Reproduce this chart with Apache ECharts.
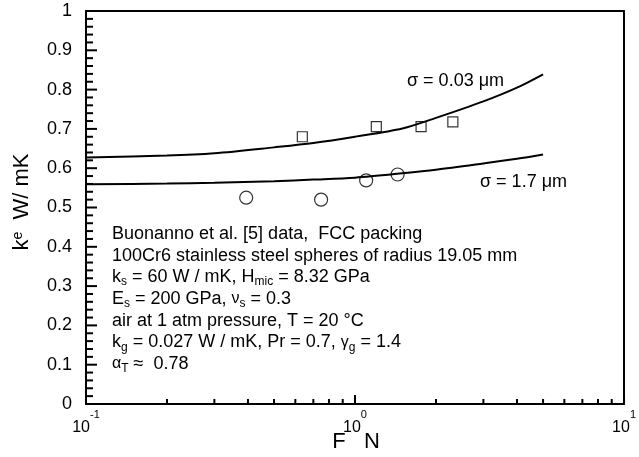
<!DOCTYPE html>
<html>
<head>
<meta charset="utf-8">
<script src="https://cdn.jsdelivr.net/npm/echarts@6/dist/echarts.min.js"></script>
<style>
  html, body { margin: 0; padding: 0; background: #fff; }
  #chart { width: 639px; height: 457px; }
</style>
</head>
<body>
<div id="chart"></div>
<script>
var FONT = 'Liberation Sans, Arial, Helvetica, sans-serif';

// model curves (F in N, ke in W/mK)
var curve_fine = [[0.1, 0.627], [0.2, 0.632], [0.3, 0.638], [0.5, 0.653], [0.7, 0.664], [1.0, 0.680],
                  [1.5, 0.701], [2.0, 0.728], [3.0, 0.770], [4.0, 0.805], [5.0, 0.839]];
var curve_rough = [[0.1, 0.559], [0.2, 0.561], [0.3, 0.563], [0.5, 0.567], [0.7, 0.571], [1.0, 0.576],
                   [1.5, 0.587], [2.0, 0.596], [3.0, 0.612], [4.0, 0.624], [5.0, 0.635]];

// Buonanno et al. data
var data_squares = [[0.637, 0.680], [1.20, 0.706], [1.76, 0.706], [2.31, 0.718]];
var data_circles = [[0.394, 0.525], [0.748, 0.520], [1.10, 0.569], [1.44, 0.584]];

// tick positions
var x_major_ticks = [0.1, 1, 10];
var x_minor_ticks = [0.2, 0.3, 0.4, 0.5, 0.6, 0.7, 0.8, 0.9, 2, 3, 4, 5, 6, 7, 8, 9];
var y_major_ticks = [0, 0.1, 0.2, 0.3, 0.4, 0.5, 0.6, 0.7, 0.8, 0.9, 1];
var y_minor_ticks = [0.02, 0.04, 0.06, 0.08, 0.12, 0.14, 0.16, 0.18, 0.22, 0.24, 0.26, 0.28,
                     0.32, 0.34, 0.36, 0.38, 0.42, 0.44, 0.46, 0.48, 0.52, 0.54, 0.56, 0.58,
                     0.62, 0.64, 0.66, 0.68, 0.72, 0.74, 0.76, 0.78, 0.82, 0.84, 0.86, 0.88,
                     0.92, 0.94, 0.96, 0.98];

var info_lines = [
	'Buonanno et al. [5] data,  FCC packing',
	'100Cr6 stainless steel spheres of radius 19.05 mm',
	'k{sub|s} = 60 W / mK, H{sub|mic} = 8.32 GPa',
	'E{sub|s} = 200 GPa, {gr|ν}{sub|s} = 0.3',
	'air at 1 atm pressure, T = 20 °C',
	'k{sub|g} = 0.027 W / mK, Pr = 0.7, {gr|γ}{sub|g} = 1.4',
	'{gr|α}{sub|T} ≈  0.78'
];

var chart = echarts.init(document.getElementById('chart'));

var sub_rich = {
	sub: {fontSize: 12, lineHeight: 10, verticalAlign: 'bottom', fontFamily: FONT, color: '#000'},
	gr: {fontSize: 16, fontFamily: FONT, color: '#000'}
};

var frame_line = {show: true, onZero: false, lineStyle: {color: '#000', width: 2}};

// tick marks drawn as custom series through the axis scales
function xTickSeries(values, len) {
	return {
		type: 'custom', silent: true, clip: false,
		data: values.map(function(t) { return [t, 0]; }),
		renderItem: function(params, api) {
			var p = api.coord([api.value(0), api.value(1)]);
			return {
				type: 'line',
				shape: {x1: p[0], y1: p[1], x2: p[0], y2: p[1] - len},
				style: {stroke: '#000', lineWidth: 2}
			};
		}
	};
}
function yTickSeries(values, len) {
	return {
		type: 'custom', silent: true, clip: false,
		data: values.map(function(t) { return [0.1, t]; }),
		renderItem: function(params, api) {
			var p = api.coord([api.value(0), api.value(1)]);
			return {
				type: 'line',
				shape: {x1: p[0], y1: p[1], x2: p[0] + len, y2: p[1]},
				style: {stroke: '#000', lineWidth: 2}
			};
		}
	};
}

var option = {
	animation: false,
	grid: {left: 86, right: 13, top: 11, bottom: 53, show: false},
	xAxis: [{
		type: 'log', logBase: 10, min: 0.1, max: 10,
		axisLine: frame_line,
		axisTick: {show: false},
		splitLine: {show: false},
		axisLabel: {
			margin: 5, showMinLabel: true, showMaxLabel: true,
			formatter: function(v) {
				var e = Math.round(Math.log(v) / Math.LN10);
				return '{b|10}{s|' + e + '}';
			},
			rich: {
				b: {fontSize: 16, lineHeight: 27, verticalAlign: 'bottom', fontFamily: FONT, color: '#000'},
				s: {fontSize: 11, lineHeight: 12, verticalAlign: 'top', fontFamily: FONT, color: '#000'}
			}
		}
	}, {
		// top frame
		type: 'log', logBase: 10, min: 0.1, max: 10, position: 'top',
		axisLine: frame_line, axisTick: {show: false}, axisLabel: {show: false}, splitLine: {show: false}
	}],
	yAxis: [{
		type: 'value', min: 0, max: 1, interval: 0.1,
		axisLine: frame_line,
		axisTick: {show: false},
		splitLine: {show: false},
		axisLabel: {
			margin: 14, fontSize: 18, fontFamily: FONT, color: '#000',
			formatter: function(v) {
				if (v === 0) return '0';
				if (v === 1) return '1';
				return v.toFixed(1);
			}
		}
	}, {
		// right frame
		type: 'value', min: 0, max: 1, position: 'right',
		axisLine: frame_line, axisTick: {show: false}, axisLabel: {show: false}, splitLine: {show: false}
	}],
	series: [
		{
			type: 'line', data: curve_fine, smooth: 0.3, showSymbol: false, silent: true,
			lineStyle: {color: '#000', width: 2}
		},
		{
			type: 'line', data: curve_rough, smooth: 0.3, showSymbol: false, silent: true,
			lineStyle: {color: '#000', width: 2}
		},
		{
			type: 'scatter', data: data_squares, symbol: 'rect', symbolSize: 10,
			itemStyle: {color: 'rgba(0,0,0,0)', borderColor: '#000', borderWidth: 1.2}
		},
		{
			type: 'scatter', data: data_circles, symbol: 'circle', symbolSize: 13,
			itemStyle: {color: 'rgba(0,0,0,0)', borderColor: '#000', borderWidth: 1.2}
		},
		xTickSeries(x_major_ticks, 9),
		xTickSeries(x_minor_ticks, 5),
		yTickSeries(y_major_ticks, 11),
		yTickSeries(y_minor_ticks, 7)
	],
	graphic: [
		{
			type: 'text', left: 407, top: 72,
			style: {text: 'σ = 0.03 μm', fontSize: 18, fontFamily: FONT, fill: '#000'}
		},
		{
			type: 'text', left: 480, top: 173,
			style: {text: 'σ = 1.7 μm', fontSize: 18, fontFamily: FONT, fill: '#000'}
		},
		{
			type: 'text', left: 112, top: 223,
			style: {
				text: info_lines.join('\n'), fontSize: 18, lineHeight: 21.7,
				fontFamily: FONT, fill: '#000', rich: sub_rich
			}
		},
		{
			type: 'text', x: 22, y: 202, rotation: Math.PI / 2,
			style: {
				text: 'k{sup|e}  W/ mK', fontSize: 22, fontFamily: FONT, fill: '#000',
				align: 'center', verticalAlign: 'middle',
				rich: {sup: {fontSize: 14, lineHeight: 10, verticalAlign: 'top', fontFamily: FONT, color: '#000'}}
			}
		},
		{
			type: 'text', x: 356, y: 442,
			style: {
				text: 'F   N', fontSize: 22, fontFamily: FONT, fill: '#000',
				align: 'center', verticalAlign: 'middle'
			}
		}
	]
};

chart.setOption(option);
</script>
</body>
</html>
